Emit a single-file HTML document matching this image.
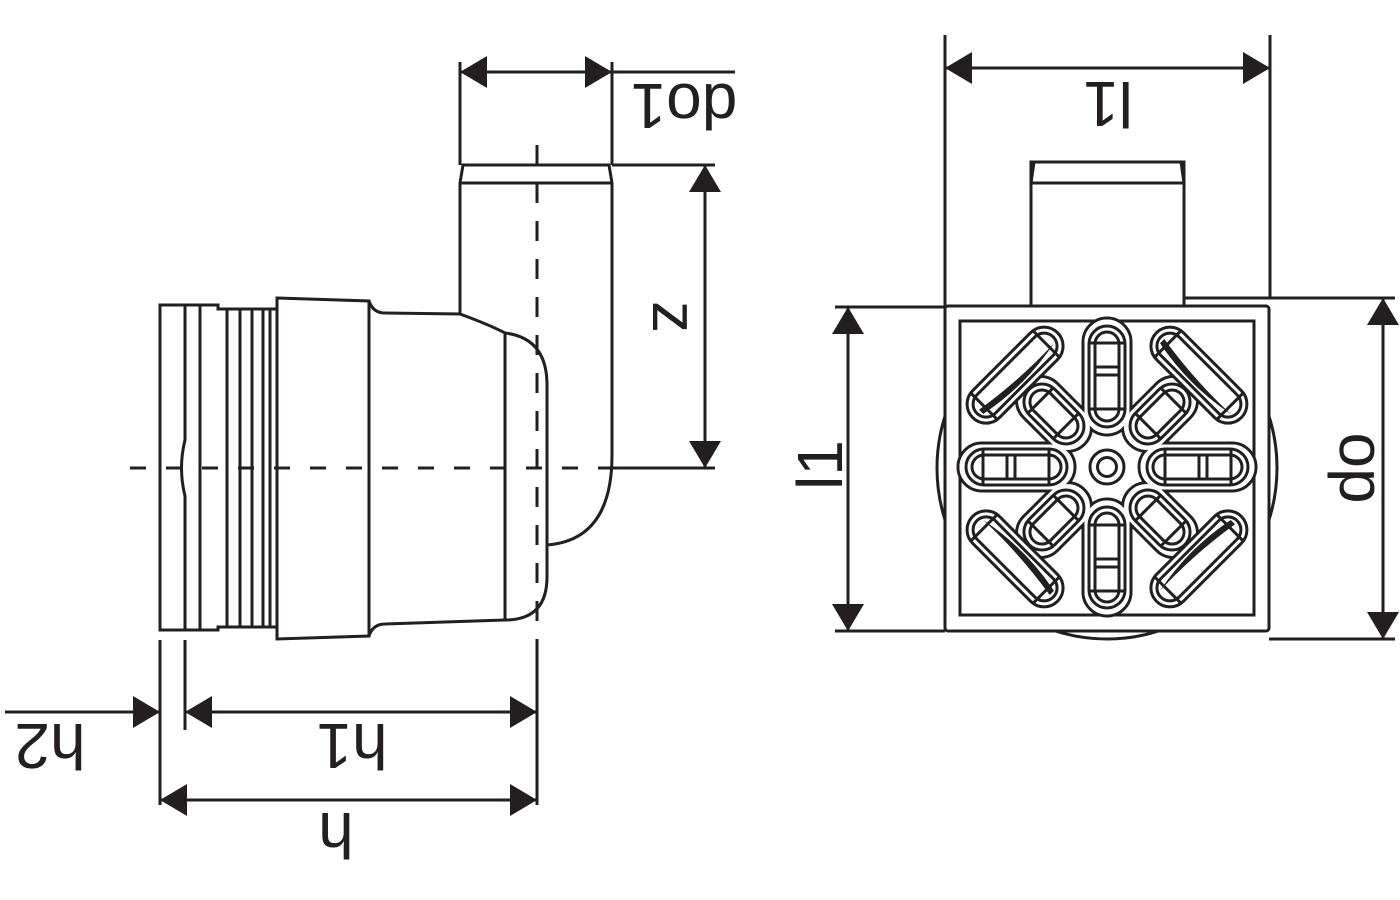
<!DOCTYPE html>
<html><head><meta charset="utf-8"><style>html,body{margin:0;padding:0;background:#fff}svg{display:block}.t{font-family:"Liberation Sans",Arimo,Helvetica,Arial,sans-serif;font-size:64px;fill:#231f20}</style></head><body>
<svg width="1400" height="900" viewBox="0 0 1400 900" xmlns="http://www.w3.org/2000/svg">
<defs>
<g id="slot">
<rect x="40" y="-18" width="70" height="36" rx="18" fill="#fff" stroke="#231f20" stroke-width="3"/>
<rect x="46" y="-12" width="58" height="24" rx="12" fill="#fff" stroke="#231f20" stroke-width="3"/>
<line x1="58" y1="-17" x2="58" y2="17" stroke="#231f20" stroke-width="3"/>
<line x1="94" y1="-17" x2="94" y2="17" stroke="#231f20" stroke-width="3"/>
</g>
<g id="slotv">
<rect x="40" y="-18" width="101" height="36" rx="18" fill="#fff" stroke="#231f20" stroke-width="3"/>
<rect x="46" y="-12" width="89" height="24" rx="12" fill="#fff" stroke="#231f20" stroke-width="3"/>
<line x1="58" y1="-17" x2="58" y2="17" stroke="#231f20" stroke-width="3"/>
<line x1="124" y1="-17" x2="124" y2="17" stroke="#231f20" stroke-width="3"/>
<line x1="100" y1="-12" x2="100" y2="12" stroke="#231f20" stroke-width="3"/>
<line x1="92" y1="-12" x2="92" y2="12" stroke="#231f20" stroke-width="3"/>
</g>
<g id="corner">
<rect x="111" y="-60" width="38" height="120" rx="19" fill="#fff" stroke="#231f20" stroke-width="3"/>
<rect x="117" y="-54" width="26" height="108" rx="13" fill="#fff" stroke="#231f20" stroke-width="3"/>
<line x1="112" y1="-44" x2="148" y2="-44" stroke="#231f20" stroke-width="3"/>
<line x1="112" y1="44" x2="148" y2="44" stroke="#231f20" stroke-width="3"/>
<path d="M125,-50 Q115,0 125,50 Q123,0 131,-50 Z" fill="#231f20"/>
</g>
<marker id="a" viewBox="0 0 27 32" refX="27" refY="16" markerWidth="27" markerHeight="32" markerUnits="userSpaceOnUse" orient="auto-start-reverse"><path d="M0,0 L27,16 L0,32 Z" fill="#231f20"/></marker>
</defs>
<g stroke="#231f20" stroke-width="3" fill="none">
<path d="M460,313 L460,183 L463,165 L609,165 L612,183 L612,455 Q612,540 547,545" fill="#fff"/>
<line x1="460" y1="183" x2="612" y2="183"/>
<path d="M369,301 Q373,313 385,313 L460,314 Q490,325 505,333 Q547,338 547,385 L547,577 Q547,620 505,620 L385,624 Q373,624 369,636 Z" fill="#fff"/>
<line x1="505" y1="333" x2="505" y2="620"/>
<path d="M277,298 L369,301 L369,636 L277,639 Z" fill="#fff"/>
<path d="M160,305 L218,305 L218,309 L277,309 L277,627 L218,627 L218,630 L160,630 Z" fill="#fff"/>
<path d="M185,305 L185,440 Q178,468 185,496 L185,630"/>
<line x1="200" y1="305" x2="200" y2="630"/>
<line x1="227" y1="309" x2="227" y2="627"/>
<line x1="240" y1="309" x2="240" y2="627"/>
<line x1="252" y1="309" x2="252" y2="627"/>
<line x1="263" y1="309" x2="263" y2="627"/>
<line x1="270" y1="309" x2="270" y2="627"/>
<line x1="130" y1="468" x2="620" y2="468" stroke-dasharray="16 20"/>
<line x1="537" y1="145" x2="537" y2="640" stroke-dasharray="20 18"/>
<line x1="460" y1="62" x2="460" y2="165"/>
<line x1="612" y1="62" x2="612" y2="165"/>
<line x1="460" y1="72" x2="612" y2="72" marker-start="url(#a)" marker-end="url(#a)"/>
<line x1="612" y1="72" x2="735" y2="72"/>
<line x1="612" y1="165" x2="715" y2="165"/>
<line x1="612" y1="468" x2="715" y2="468"/>
<line x1="705" y1="165" x2="705" y2="468" marker-start="url(#a)" marker-end="url(#a)"/>
<line x1="160" y1="640" x2="160" y2="805"/>
<line x1="185" y1="640" x2="185" y2="730"/>
<line x1="537" y1="640" x2="537" y2="805"/>
<line x1="5" y1="712" x2="160" y2="712" marker-end="url(#a)"/>
<line x1="185" y1="712" x2="537" y2="712" marker-start="url(#a)" marker-end="url(#a)"/>
<line x1="160" y1="800" x2="537" y2="800" marker-start="url(#a)" marker-end="url(#a)"/>
<ellipse cx="1107" cy="468" rx="170" ry="171"/>
<rect x="1031" y="162" width="153" height="150" fill="#fff"/>
<path d="M1031,183 L1034,162 L1181,162 L1184,183 Z" fill="#fff"/>
<rect x="945" y="306" width="324" height="325" rx="3" fill="#fff"/>
<rect x="960" y="321" width="294" height="294" fill="#fff"/>
<line x1="945" y1="35" x2="945" y2="306"/>
<line x1="1270" y1="35" x2="1270" y2="298"/>
<line x1="945" y1="68" x2="1270" y2="68" marker-start="url(#a)" marker-end="url(#a)"/>
<line x1="835" y1="307" x2="945" y2="307"/>
<line x1="835" y1="631" x2="945" y2="631"/>
<line x1="848" y1="307" x2="848" y2="631" marker-start="url(#a)" marker-end="url(#a)"/>
<line x1="1184" y1="298" x2="1395" y2="298"/>
<line x1="1269" y1="639" x2="1395" y2="639"/>
<line x1="1383" y1="298" x2="1383" y2="639" marker-start="url(#a)" marker-end="url(#a)"/>
</g>
<g transform="translate(1107,467)">
<g stroke="#231f20" stroke-width="3" fill="#fff">
<rect x="32" y="-24" width="117" height="48" rx="24"/>
<rect x="32" y="-24" width="86" height="48" rx="24" transform="rotate(45)"/>
<rect x="32" y="-24" width="117" height="48" rx="24" transform="rotate(90)"/>
<rect x="32" y="-24" width="86" height="48" rx="24" transform="rotate(135)"/>
<rect x="32" y="-24" width="117" height="48" rx="24" transform="rotate(180)"/>
<rect x="32" y="-24" width="86" height="48" rx="24" transform="rotate(225)"/>
<rect x="32" y="-24" width="117" height="48" rx="24" transform="rotate(270)"/>
<rect x="32" y="-24" width="86" height="48" rx="24" transform="rotate(315)"/>
</g>
<g fill="#fff" stroke="none">
<rect x="33.5" y="-22.5" width="114" height="45" rx="22.5"/>
<rect x="33.5" y="-22.5" width="83" height="45" rx="22.5" transform="rotate(45)"/>
<rect x="33.5" y="-22.5" width="114" height="45" rx="22.5" transform="rotate(90)"/>
<rect x="33.5" y="-22.5" width="83" height="45" rx="22.5" transform="rotate(135)"/>
<rect x="33.5" y="-22.5" width="114" height="45" rx="22.5" transform="rotate(180)"/>
<rect x="33.5" y="-22.5" width="83" height="45" rx="22.5" transform="rotate(225)"/>
<rect x="33.5" y="-22.5" width="114" height="45" rx="22.5" transform="rotate(270)"/>
<rect x="33.5" y="-22.5" width="83" height="45" rx="22.5" transform="rotate(315)"/>
</g>
<use href="#slotv"/>
<use href="#slot" transform="rotate(45)"/>
<use href="#slotv" transform="rotate(90)"/>
<use href="#slot" transform="rotate(135)"/>
<use href="#slotv" transform="rotate(180)"/>
<use href="#slot" transform="rotate(225)"/>
<use href="#slotv" transform="rotate(270)"/>
<use href="#slot" transform="rotate(315)"/>
<use href="#corner" transform="rotate(45)"/>
<use href="#corner" transform="rotate(135)"/>
<use href="#corner" transform="rotate(225)"/>
<use href="#corner" transform="rotate(315)"/>
<circle r="17" fill="#fff" stroke="#231f20" stroke-width="3"/>
<circle r="9.5" fill="#fff" stroke="#231f20" stroke-width="3"/>
</g>
<g text-anchor="middle">
<text class="t" transform="translate(684,106) rotate(180)" dominant-baseline="central">do1</text>
<text class="t" transform="translate(675,317) rotate(90)" dominant-baseline="central">z</text>
<text class="t" transform="translate(50,746) rotate(180)" dominant-baseline="central">h2</text>
<text class="t" transform="translate(352,746) rotate(180)" dominant-baseline="central">h1</text>
<text class="t" transform="translate(336,835) rotate(180)" dominant-baseline="central">h</text>
<text class="t" transform="translate(1108,104) rotate(180)" dominant-baseline="central">l1</text>
<text class="t" transform="translate(820,465) rotate(-90)" dominant-baseline="central">l1</text>
<text class="t" transform="translate(1352,468) rotate(-90)" dominant-baseline="central">do</text>
</g>
</svg>
</body></html>
